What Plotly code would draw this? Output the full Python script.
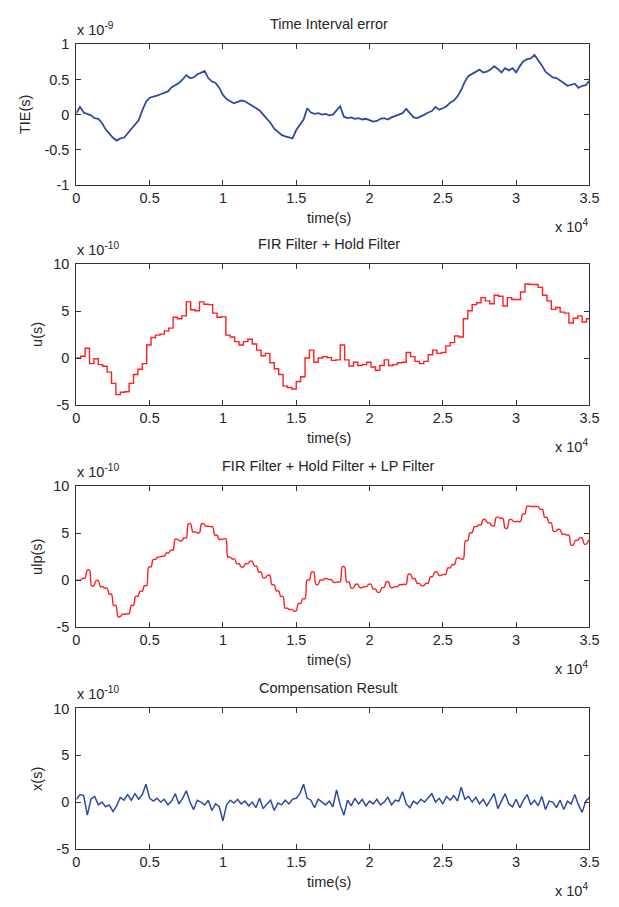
import plotly.graph_objects as go

# ---------------- data ----------------
# Panel 1: Time Interval Error (units of 1e-9 s), read every 250 s from the picture
tie_step = 250
tie_v = [
    0.02, 0.11, 0.03, 0.01, -0.01, -0.05, -0.06, -0.12, -0.21, -0.27,
    -0.33, -0.37, -0.34, -0.33, -0.27, -0.2, -0.15, -0.08, 0.06, 0.18,
    0.24, 0.25, 0.27, 0.29, 0.31, 0.33, 0.39, 0.42, 0.45, 0.5,
    0.56, 0.52, 0.53, 0.57, 0.6, 0.62, 0.52, 0.47, 0.45, 0.38,
    0.28, 0.22, 0.19, 0.16, 0.18, 0.2, 0.19, 0.16, 0.12, 0.1,
    0.06, 0.0, -0.06, -0.12, -0.2, -0.25, -0.29, -0.31, -0.33, -0.34,
    -0.22, -0.15, -0.07, 0.09, 0.03, 0.01, 0.02, 0.0, 0.01, -0.01,
    0.0, 0.06, 0.12, -0.03, -0.05, -0.04, -0.06, -0.05, -0.07, -0.06,
    -0.08, -0.1, -0.09, -0.06, -0.05, -0.07, -0.04, -0.02, -0.01, 0.02,
    0.08, 0.02, -0.04, -0.05, -0.03, 0.0, 0.03, 0.05, 0.11, 0.07,
    0.09, 0.12, 0.17, 0.2, 0.26, 0.35, 0.47, 0.55, 0.58, 0.61,
    0.64, 0.6, 0.61, 0.64, 0.69, 0.65, 0.6, 0.66, 0.63, 0.66,
    0.6, 0.69, 0.76, 0.79, 0.8, 0.85, 0.78, 0.7, 0.61, 0.57,
    0.53, 0.52, 0.49, 0.45, 0.41, 0.43, 0.44, 0.38, 0.41, 0.42,
    0.48]

# Panel 2/3: FIR + Hold filter output (units of 1e-10 s), one value per hold period
hold_period = 300
hold_v = [
    0.0, 0.2, 1.05, -0.6, -0.07, -0.7, -0.87, -1.5, -2.7, -3.9,
    -3.65, -3.6, -2.7, -1.75, -1.2, -0.6, 1.4, 2.2, 2.45, 2.55,
    2.9, 3.2, 4.35, 4.2, 4.5, 6.0, 5.15, 5.05, 6.0, 5.75,
    5.7, 4.8, 4.35, 4.4, 2.45, 2.25, 1.75, 1.4, 1.75, 2.0,
    1.5, 0.85, 0.25, 0.5, -0.5, -1.15, -1.75, -3.0, -3.15, -3.3,
    -2.5, -2.0, 0.0, 0.85, -0.45, 0.0, 0.15, 0.05, -0.25, -0.2,
    1.4, -0.2, -0.85, -0.45, -0.8, -0.7, -0.45, -0.95, -1.3, -0.8,
    -0.2, -0.8, -0.7, -0.5, -0.45, 0.6, 0.15, -0.35, -0.6, -0.35,
    0.35, 0.85, 0.5, 0.6, 1.3, 1.65, 2.35, 2.25, 4.2, 5.05,
    5.7, 5.9, 6.45, 6.1, 5.8, 6.7, 6.6, 5.55, 6.45, 6.25,
    6.25, 7.05, 7.9, 7.85, 7.85, 7.55, 6.7, 6.1, 5.2, 5.4,
    4.9, 4.8, 3.75, 4.25, 4.5, 3.85, 4.2]

# Panel 4: compensation result (units of 1e-10 s), every 250 s
comp_step = 250
comp_v = [0.3, 0.8, 0.7, -1.4, 0.3, 0.6, -0.3, 0.0, -0.5, -0.3,
          -1.0, -0.4, 0.5, 0.2, 0.8, 0.2, 0.9, 0.3, 0.8, 1.9,
          0.4, 0.1, 0.4, 0.0, 0.3, -0.3, 0.1, 0.9, -0.2, 0.4,
          1.2, 0.0, -0.8, 0.2, 0.0, -0.3, 0.2, -0.9, -0.2, -0.5,
          -2.0, -0.3, 0.2, -0.1, 0.3, -0.2, 0.1, -0.4, 0.0, -0.6,
          0.4, -0.7, -0.2, 0.2, -0.9, -0.1, -0.3, 0.2, -0.2, 0.3,
          0.4, 0.9, 1.9, 0.4, 0.2, -0.6, 0.3, 0.0, -0.3, 0.1,
          -0.5, 1.3, -0.3, -1.4, 0.2, -0.4, 0.4, -0.2, 0.3, -0.4,
          0.1, -0.2, 0.3, -0.3, 0.0, 0.5, -0.3, 0.2, 0.1, 1.1,
          -0.2, -0.6, 0.1, -0.2, 0.3, 0.0, 0.4, 0.9, 0.0, 0.4,
          -0.2, 0.6, 0.2, 0.7, 0.1, 1.6, 0.3, 0.6, 0.0, 0.5,
          -0.2, 0.3, -0.4, 0.2, 0.9, -0.7, 0.1, 0.9, -0.2, -0.5,
          0.3, -0.6, 0.2, 0.8, -0.3, 0.2, -0.4, 0.6, -0.8, 0.1,
          0.0, -0.6, 0.2, -0.8, 0.1, -0.2, 0.8, -0.3, -1.1, 0.1, 0.5]

titles = ["Time Interval error", "FIR Filter + Hold Filter",
          "FIR Filter + Hold Filter + LP Filter", "Compensation Result"]
ylabels = ["TIE(s)", "u(s)", "ulp(s)", "x(s)"]
exponents = ["-9", "-10", "-10", "-10"]
x_tickvals = [0, 5000, 10000, 15000, 20000, 25000, 30000, 35000]
x_ticktext = ["0", "0.5", "1", "1.5", "2", "2.5", "3", "3.5"]
y1_tickvals = [-1, -0.5, 0, 0.5, 1]
y1_ticktext = ["-1", "-0.5", "0", "0.5", "1"]
y2_tickvals = [-5, 0, 5, 10]
y2_ticktext = ["-5", "0", "5", "10"]

# ---------------- derived series ----------------
tie_t = [k * tie_step for k in range(len(tie_v))]

hold_t = [k * hold_period for k in range(len(hold_v))]
step_x = hold_t + [35000]
step_y = hold_v + [hold_v[-1]]

ramp = 140
lp_x, lp_y = [0], [hold_v[0]]
for k in range(1, len(hold_v)):
    lp_x += [hold_t[k], hold_t[k] + ramp]
    lp_y += [hold_v[k - 1], hold_v[k]]
lp_x.append(35000)
lp_y.append(hold_v[-1])

comp_t = [k * comp_step for k in range(len(comp_v))]

# ---------------- figure ----------------
W, H = 619, 907
LEFT, RIGHT = 74, 599
TOPS = [37, 261, 487, 713]
PH = 143
FONT = "Liberation Sans, Arial, sans-serif"
FS = 14.5
TXT = "#262626"
BLUE = "#2e4aa6"
RED = "#ff1f1f"

fig = go.Figure()
fig.add_trace(go.Scatter(x=tie_t, y=tie_v, mode="lines", line=dict(color=BLUE, width=1.8),
                         xaxis="x", yaxis="y"))
fig.add_trace(go.Scatter(x=step_x, y=step_y, mode="lines", line=dict(color=RED, width=1.4, shape="hv"),
                         xaxis="x2", yaxis="y2"))
fig.add_trace(go.Scatter(x=lp_x, y=lp_y, mode="lines",
                         line=dict(color=RED, width=1.4, shape="spline", smoothing=1.0),
                         xaxis="x3", yaxis="y3"))
fig.add_trace(go.Scatter(x=comp_t, y=comp_v, mode="lines", line=dict(color=BLUE, width=1.5),
                         xaxis="x4", yaxis="y4"))

def px(xp):
    return xp / W

def py(yp):
    return 1 - yp / H

layout = dict(width=W, height=H, margin=dict(l=0, r=0, t=0, b=0),
              paper_bgcolor="white", plot_bgcolor="white", showlegend=False,
              font=dict(family=FONT, size=FS, color=TXT))
annotations = []
for i in range(4):
    T = TOPS[i]
    B = T + PH
    sfx = "" if i == 0 else str(i + 1)
    axis_common = dict(showgrid=False, zeroline=False, showline=True, linecolor="#333333",
                       linewidth=1, mirror="ticks", ticks="inside", ticklen=5,
                       tickcolor="#333333", tickfont=dict(family=FONT, size=FS, color=TXT))
    layout["xaxis" + sfx] = dict(axis_common, domain=[px(LEFT), px(RIGHT)], range=[0, 35000],
                                 anchor="y" + sfx, tickvals=x_tickvals, ticktext=x_ticktext,
                                 ticklabelstandoff=0)
    if i == 0:
        layout["yaxis" + sfx] = dict(axis_common, domain=[py(B), py(T)], range=[-1, 1],
                                     anchor="x" + sfx, tickvals=y1_tickvals, ticktext=y1_ticktext,
                                     ticklabelstandoff=3)
    else:
        layout["yaxis" + sfx] = dict(axis_common, domain=[py(B), py(T)], range=[-5, 10],
                                     anchor="x" + sfx, tickvals=y2_tickvals, ticktext=y2_ticktext,
                                     ticklabelstandoff=3)
    cx = (LEFT + RIGHT) / 2 - 4
    annotations.append(dict(text=titles[i], x=px(cx), y=py(T - 21), xref="paper", yref="paper",
                            xanchor="center", yanchor="middle", showarrow=False,
                            font=dict(family=FONT, size=FS, color=TXT)))
    annotations.append(dict(text="x 10<sup>" + exponents[i] + "</sup>", x=px(LEFT - 1), y=py(T - 16),
                            xref="paper", yref="paper", xanchor="left", yanchor="middle",
                            showarrow=False, font=dict(family=FONT, size=FS, color=TXT)))
    annotations.append(dict(text="time(s)", x=px(cx), y=py(B + 34), xref="paper", yref="paper",
                            xanchor="center", yanchor="middle", showarrow=False,
                            font=dict(family=FONT, size=FS, color=TXT)))
    annotations.append(dict(text="x 10<sup>4</sup>", x=px(RIGHT + 1), y=py(B + 42), xref="paper",
                            yref="paper", xanchor="right", yanchor="middle", showarrow=False,
                            font=dict(family=FONT, size=FS, color=TXT)))
    annotations.append(dict(text=ylabels[i], x=px(21 if i == 0 else 33), y=py((T + B) / 2),
                            xref="paper", yref="paper", xanchor="center", yanchor="middle",
                            textangle=-90, showarrow=False,
                            font=dict(family=FONT, size=FS, color=TXT)))
layout["annotations"] = annotations
fig.update_layout(**layout)
fig.write_html("out.html")
